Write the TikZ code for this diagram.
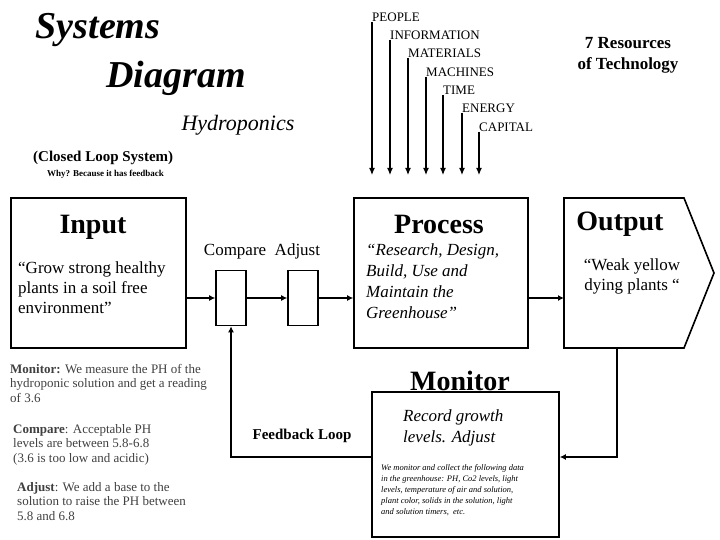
\documentclass[tikz,border=0pt]{standalone}
\usepackage{fontspec}
\setmainfont{Liberation Serif}
\usetikzlibrary{arrows.meta,positioning,shapes.symbols,calc}
\tikzset{
  block/.style    = {rectangle,draw,line width=1.6pt,inner sep=0pt},
  gate/.style     = {rectangle,draw,line width=1.6pt,minimum width=30pt,minimum height=55pt,inner sep=0pt},
  flow/.style     = {-{Latex[length=6pt,width=6pt]},line width=2.4pt},
  resource/.style = {-{Latex[length=7pt,width=6pt]},line width=1.2pt},
  reslabel/.style = {anchor=south west,font=\fontsize{13}{13}\selectfont,inner sep=0pt},
  heading/.style  = {font=\fontsize{28}{28}\selectfont\bfseries},
  note/.style     = {align=left,anchor=north west,inner sep=0pt,text=black!75,font=\fontsize{13}{14.5}\selectfont},
}

\begin{document}
\begin{tikzpicture}[x=1pt,y=-1pt]
\useasboundingbox (0,0) rectangle (720,540);
% titles
\node[font=\fontsize{38}{38}\selectfont\bfseries\itshape] (sys) at (98,30) {Systems};
\node[font=\fontsize{38}{38}\selectfont\bfseries\itshape] (dia) at (176,78) {Diagram};
\node[font=\fontsize{22}{22}\selectfont\itshape] (hydro) at (238,125) {Hydroponics};
\node[font=\fontsize{15}{15}\selectfont\bfseries,anchor=west,inner sep=0pt] (closed) at (33,158) {(Closed Loop System)};
\node[font=\fontsize{9}{9}\selectfont\bfseries,anchor=west,inner sep=0pt] (why) at (47,174) {Why? Because it has feedback};
\node[font=\fontsize{17}{21}\selectfont\bfseries,align=center] (seven) at (628,55) {7 Resources\\of Technology};
% resources
\foreach \x/\y/\t [count=\i] in {372/22/PEOPLE,390/40/INFORMATION,408/58/MATERIALS,426/77/MACHINES/TOOLS,443/95/TIME,462/113/ENERGY,479/132/CAPITAL}{
  \node[reslabel] (r\i) at (\x,\y) {\t};
  \coordinate (e\i) at (\x,175);
  \draw[resource] (r\i.south west) -- (e\i);
}
% main blocks
\node[block,minimum width=175pt,minimum height=150pt] (input) at (98.5,273) {};
\node[heading] (inputt) at (93,227) {Input};
\node[font=\fontsize{17}{20}\selectfont,align=left,anchor=north west,inner sep=0pt] (inputx) at (18,262) {“Grow strong healthy\\plants in a soil free\\environment”};
\node[gate] (cmp) at (231,298) {};
\node[gate] (adj) at (303,298) {};
\node[font=\fontsize{17}{17}\selectfont] (cmpadj) at (262,251) {Compare\ \ Adjust};
\node[block,minimum width=174pt,minimum height=150pt] (proc) at (441,273) {};
\node[heading] (proct) at (439,224) {Process};
\node[font=\fontsize{17}{21}\selectfont\itshape,align=left,anchor=north west,inner sep=0pt] (procx) at (366,244) {“Research, Design,\\Build, Use and\\Maintain the\\Greenhouse”};
\draw[line width=1.6pt] (564,198) coordinate (o1) -- (684,198) -- (714,273) -- (684,348) -- (564,348) -- cycle;
\node[heading] (outt) at (620,224) {Output};
\node[font=\fontsize{17}{20}\selectfont,align=center] (outx) at (632,276) {“Weak yellow\\dying plants “};
\coordinate (outb) at (617,348);
\node[heading] (mont) at (460,381) {Monitor};
\node[block,minimum width=187pt,minimum height=145pt] (mon) at (465.5,464.5) {};
\node[font=\fontsize{17}{21}\selectfont\itshape,align=left,anchor=north west,inner sep=0pt] (monx) at (403,410) {Record growth\\levels. Adjust};
\node[font=\fontsize{8.5}{11}\selectfont\itshape,align=left,anchor=north west,inner sep=0pt] (mony) at (381,464) {We monitor and collect the following data\\in the greenhouse: PH, Co2 levels, light\\levels, temperature of air and solution,\\plant color, solids in the solution, light\\and solution timers,\ \ etc.};
\node[font=\fontsize{15}{15}\selectfont\bfseries] (fb) at (302,436) {Feedback Loop};
% connectors
\draw[flow] (input.east |- cmp) -- (cmp);
\draw[flow] (cmp) -- (adj);
\draw[flow] (adj) -- (proc.west |- adj);
\draw[flow] (proc.east |- adj) -- (564,298);
\draw[flow] (outb) |- (mon.east |- 0,457);
\draw[flow] (mon.west |- 0,457) -| (cmp.south);
% notes
\node[note] (n1) at (10,364) {\textbf{Monitor:} We measure the PH of the\\hydroponic solution\ and get a reading\\of 3.6};
\node[note] (n2) at (13,424) {\textbf{Compare}: Acceptable\ PH\\levels are\ between 5.8-6.8\\(3.6 is too low and acidic)};
\node[note] (n3) at (17,482) {\textbf{Adjust}: We add a base to the\\solution to raise the PH\ between\\5.8 and 6.8};
\end{tikzpicture}
\end{document}
